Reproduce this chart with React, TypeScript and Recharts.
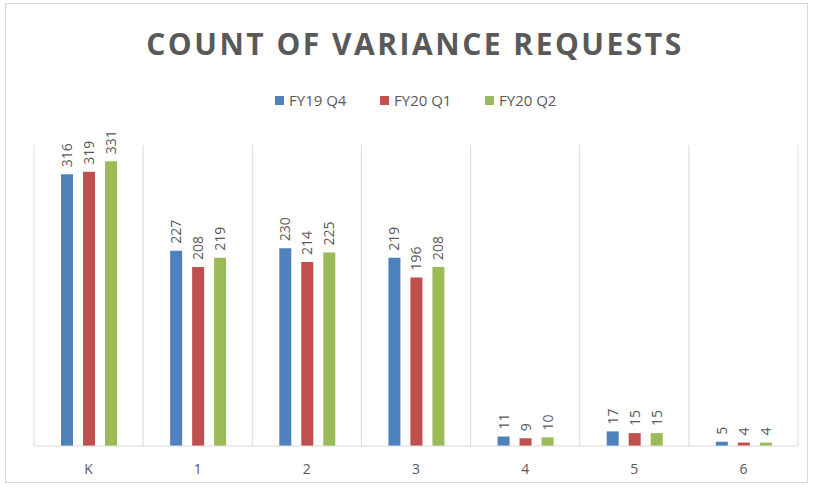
import React from 'react';
import { BarChart, Bar, XAxis, YAxis, CartesianGrid, LabelList } from 'recharts';

const categories = ['K', '1', '2', '3', '4', '5', '6'];
const fy19q4 = [316, 227, 230, 219, 11, 17, 5];
const fy20q1 = [319, 208, 214, 196, 9, 15, 4];
const fy20q2 = [331, 219, 225, 208, 10, 15, 4];
const gridTicks = [0, 1, 2, 3, 4, 5, 6, 7];

const series = [
  { key: 'fy19q4', name: 'FY19 Q4', color: '#4f81bd' },
  { key: 'fy20q1', name: 'FY20 Q1', color: '#c0504d' },
  { key: 'fy20q2', name: 'FY20 Q2', color: '#9bbb59' },
];

const data = categories.map((c, i) => ({
  name: c,
  pos: i + 0.5,
  fy19q4: fy19q4[i],
  fy20q1: fy20q1[i],
  fy20q2: fy20q2[i],
}));

const font = '"Open Sans", "Liberation Sans", sans-serif';

const VerticalLabel = (props: any) => {
  const { x, y, width, value } = props;
  const cx = x + width / 2 + 5;
  const cy = y - 7;
  return (
    <text
      x={cx}
      y={cy}
      transform={`rotate(-90 ${cx} ${cy})`}
      textAnchor="start"
      fill="#595959"
      fontSize={14}
      fontFamily={font}
    >
      {value}
    </text>
  );
};

const App = () => {
  return (
    <div style={{ position: 'absolute', left: 0, top: 0, width: 813, height: 490, background: '#fff' }}>
      <div
        style={{
          position: 'absolute',
          left: 5,
          top: 3,
          width: 803,
          height: 480,
          border: '1px solid #d9d9d9',
          boxSizing: 'border-box',
        }}
      />
      <div
        style={{
          position: 'absolute',
          left: 0,
          top: 23,
          width: 830,
          textAlign: 'center',
          fontFamily: font,
          fontWeight: 700,
          fontSize: 30,
          letterSpacing: 2.5,
          color: '#595959',
        }}
      >
        COUNT OF VARIANCE REQUESTS
      </div>
      {/* legend */}
      <div
        style={{
          position: 'absolute',
          left: 275,
          top: 90,
          display: 'flex',
          fontFamily: font,
          fontSize: 15,
          color: '#595959',
        }}
      >
        {series.map((s) => (
          <div key={s.key} style={{ display: 'flex', alignItems: 'center', width: 105 }}>
            <span style={{ display: 'inline-block', width: 9, height: 9, background: s.color, marginRight: 5 }} />
            {s.name}
          </div>
        ))}
      </div>
      <div style={{ position: 'absolute', left: 0, top: 0 }}>
        <BarChart
          width={813}
          height={490}
          data={data}
          margin={{ top: 145, right: 15, bottom: 14, left: 34 }}
          barSize={12}
          barGap={10}
        >
          <XAxis xAxisId="grid" type="number" dataKey="pos" domain={[0, 7]} ticks={gridTicks} hide />
          <CartesianGrid xAxisId="grid" horizontal={false} stroke="#d9d9d9" />
          <XAxis
            dataKey="name"
            height={30}
            axisLine={{ stroke: '#d9d9d9' }}
            tickLine={false}
            tick={{ fill: '#595959', fontSize: 14, fontFamily: font }}
            tickMargin={12}
          />
          <YAxis domain={[0, 350]} hide />
          {series.map((s) => (
            <Bar key={s.key} dataKey={s.key} name={s.name} fill={s.color} isAnimationActive={false}>
              <LabelList dataKey={s.key} content={VerticalLabel} />
            </Bar>
          ))}
        </BarChart>
      </div>
    </div>
  );
};

export default App;
